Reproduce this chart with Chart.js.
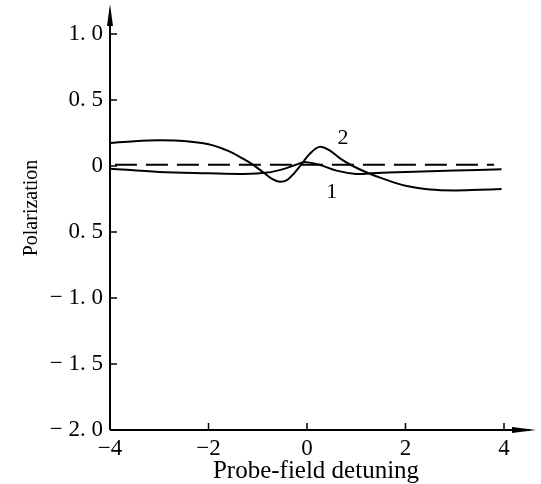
<!DOCTYPE html>
<html>
<head>
<meta charset="utf-8">
<script src="https://cdn.jsdelivr.net/npm/chart.js@4.4.1/dist/chart.umd.min.js"></script>
<style>
    html, body { margin: 0; padding: 0; background: #fff; }
</style>
</head>
<body>
<canvas id="chart" width="541" height="484"></canvas>
<script>
// Values
const xTicks = [-4, -2, 0, 2, 4];
const xTickLabels = ['−4', '−2', '0', '2', '4'];
const yTicks = [1, 0.5, 0, -0.5, -1, -1.5, -2];
const yTickLabels = ['1. 0', '0. 5', '0', '0. 5', '− 1. 0', '− 1. 5', '− 2. 0'];

// curve 1
const curve1X = [-4.0, -3.0, -2.0, -1.3, -0.8, -0.45, -0.15, -0.05, 0.25, 0.6, 1.0, 1.3, 2.0, 3.0, 3.95];
const curve1Y = [-0.02, -0.045, -0.055, -0.06, -0.05, -0.02, 0.02, 0.03, 0.01, -0.035, -0.06, -0.055, -0.045, -0.035, -0.025];

// curve 2
const curve2X = [-4.0, -3.5, -3.0, -2.5, -2.0, -1.6, -1.3, -1.1, -0.9, -0.7, -0.55, -0.4, -0.25, -0.1, 0.05, 0.25, 0.45, 0.7, 0.93, 1.25, 1.5, 2.0, 2.5, 3.0, 3.5, 3.95];
const curve2Y = [0.174, 0.188, 0.195, 0.19, 0.165, 0.115, 0.055, 0.01, -0.045, -0.1, -0.12, -0.105, -0.05, 0.02, 0.09, 0.145, 0.12, 0.05, 0.0, -0.055, -0.09, -0.15, -0.178, -0.185, -0.18, -0.175];

// dashed reference line
const dashedX = [-3.9, 3.8];
const dashedY = [0.01, 0.01];

// curve labels
const curveLabels = [
    { text: '2', x: 0.73, y: 0.21 },
    { text: '1', x: 0.5, y: -0.2 }
];

const xTitle = 'Probe-field detuning';
const yTitle = 'Polarization';

const FONT = '"Liberation Serif", "DejaVu Serif", serif';

function toPoints(xs, ys) {
    return xs.map((x, i) => ({ x: x, y: ys[i] }));
}

// Axes with arrows, inward ticks, titles and curve numbers
const axesPlugin = {
    id: 'axesPlugin',
    afterDraw(chart) {
        const ctx = chart.ctx;
        const xs = chart.scales.x;
        const ys = chart.scales.y;
        const left = xs.getPixelForValue(-4);
        const bottom = ys.getPixelForValue(-2);
        ctx.save();
        ctx.strokeStyle = '#000';
        ctx.fillStyle = '#000';
        ctx.lineWidth = 2;

        // axis lines
        ctx.beginPath();
        ctx.moveTo(left, bottom);
        ctx.lineTo(left, 10);
        ctx.moveTo(left, bottom);
        ctx.lineTo(530, bottom);
        ctx.stroke();

        // arrow heads
        ctx.beginPath();
        ctx.moveTo(left, 4);
        ctx.lineTo(left - 3, 26);
        ctx.lineTo(left + 3, 26);
        ctx.closePath();
        ctx.fill();
        ctx.beginPath();
        ctx.moveTo(536, bottom);
        ctx.lineTo(512, bottom - 3);
        ctx.lineTo(512, bottom + 3);
        ctx.closePath();
        ctx.fill();

        // tick marks pointing inward
        ctx.lineWidth = 1.5;
        ctx.beginPath();
        yTicks.forEach(v => {
            const py = ys.getPixelForValue(v);
            ctx.moveTo(left, py);
            ctx.lineTo(left + 7, py);
        });
        xTicks.forEach(v => {
            const px = xs.getPixelForValue(v);
            ctx.moveTo(px, bottom);
            ctx.lineTo(px, bottom - 7);
        });
        ctx.stroke();

        // curve numbers
        ctx.font = '22px ' + FONT;
        ctx.textAlign = 'center';
        ctx.textBaseline = 'middle';
        curveLabels.forEach(l => {
            ctx.fillText(l.text, xs.getPixelForValue(l.x), ys.getPixelForValue(l.y));
        });

        // axis titles
        ctx.font = '25px ' + FONT;
        ctx.textBaseline = 'alphabetic';
        ctx.fillText(xTitle, 316, 478);
        ctx.translate(37, 208);
        ctx.rotate(-Math.PI / 2);
        ctx.font = '20px ' + FONT;
        ctx.fillText(yTitle, 0, 0);
        ctx.restore();
    }
};

Chart.defaults.color = '#000';

const ctx = document.getElementById('chart').getContext('2d');
const chart = new Chart(ctx, {
    type: 'line',
    data: {
        datasets: [{
            label: '1',
            data: toPoints(curve1X, curve1Y),
            borderColor: '#000',
            borderWidth: 2,
            pointRadius: 0,
            tension: 0.35,
            fill: false
        }, {
            label: '2',
            data: toPoints(curve2X, curve2Y),
            borderColor: '#000',
            borderWidth: 2,
            pointRadius: 0,
            tension: 0.35,
            fill: false
        }, {
            label: 'dashed',
            data: toPoints(dashedX, dashedY),
            borderColor: '#000',
            borderWidth: 2,
            borderDash: [22, 9],
            pointRadius: 0,
            fill: false
        }]
    },
    options: {
        responsive: false,
        animation: false,
        layout: { padding: { top: 34, right: 37, left: 0, bottom: 0 } },
        plugins: {
            legend: { display: false },
            tooltip: { enabled: false }
        },
        scales: {
            x: {
                type: 'linear',
                min: -4,
                max: 4,
                border: { display: false },
                grid: { display: false, drawTicks: false },
                ticks: {
                    stepSize: 2,
                    padding: 5,
                    maxRotation: 0,
                    font: { family: FONT, size: 23 },
                    callback: v => xTickLabels[xTicks.indexOf(v)]
                },
                afterFit: s => { s.height = 54; }
            },
            y: {
                min: -2,
                max: 1,
                border: { display: false },
                grid: { display: false, drawTicks: false },
                ticks: {
                    stepSize: 0.5,
                    padding: 7,
                    font: { family: FONT, size: 23 },
                    callback: v => yTickLabels[yTicks.indexOf(v)]
                },
                afterFit: s => { s.width = 110; }
            }
        }
    },
    plugins: [axesPlugin]
});
</script>
</body>
</html>
